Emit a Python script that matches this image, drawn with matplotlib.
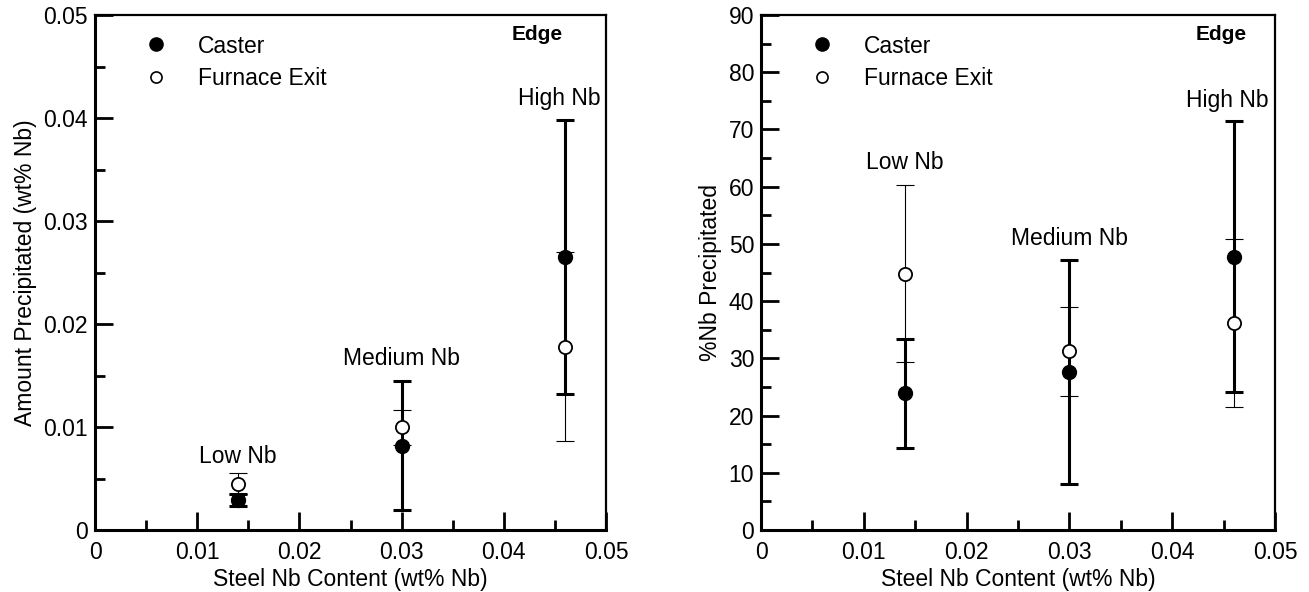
import matplotlib
matplotlib.use("Agg")
from matplotlib import pyplot as plt
from matplotlib.lines import Line2D
from matplotlib.ticker import MultipleLocator

plt.rcParams['font.family'] = ['Liberation Sans', 'DejaVu Sans']

# steel Nb content of the three grades
nb_content = [0.014, 0.030, 0.046]
grade_names = ['Low Nb', 'Medium Nb', 'High Nb']

# amount precipitated (wt% Nb)
amt_caster = [0.0029, 0.0082, 0.0265]
amt_caster_err = [0.0006, 0.0063, 0.0133]
amt_furnace = [0.0045, 0.0100, 0.0178]
amt_furnace_err = [0.0010, 0.0017, 0.0092]

# %Nb precipitated
pct_caster = [23.9, 27.6, 47.8]
pct_caster_err = [9.5, 19.6, 23.7]
pct_furnace = [44.8, 31.2, 36.2]
pct_furnace_err = [15.5, 7.7, 14.7]

x_ticks = [0, 0.01, 0.02, 0.03, 0.04, 0.05]
x_ticklabels = ['0', '0.01', '0.02', '0.03', '0.04', '0.05']
amt_yticks = [0, 0.01, 0.02, 0.03, 0.04, 0.05]
amt_yticklabels = ['0', '0.01', '0.02', '0.03', '0.04', '0.05']
pct_yticks = [0, 10, 20, 30, 40, 50, 60, 70, 80, 90]
pct_yticklabels = ['0', '10', '20', '30', '40', '50', '60', '70', '80', '90']

fig = plt.figure(figsize=(13.09, 5.92), dpi=100)
ax1 = fig.add_axes([0.0726, 0.1047, 0.3904, 0.8699])
ax2 = fig.add_axes([0.5814, 0.1047, 0.3927, 0.8699])


def draw_panel(ax, caster, caster_err, furnace, furnace_err, ymax, yticks, yticklabels,
               yminor, ylabel, label_y, edge_x):
    # furnace exit: thin bars, open circles
    ax.errorbar(nb_content, furnace, yerr=furnace_err, fmt='none', ecolor='black',
                elinewidth=0.8, capsize=6.5, capthick=0.8, zorder=2)
    ax.plot(nb_content, furnace, 'o', ms=9.5, mfc='white', mec='black', mew=1.3, zorder=4)
    # caster: thick bars, filled circles
    ax.errorbar(nb_content, caster, yerr=caster_err, fmt='none', ecolor='black',
                elinewidth=2.2, capsize=6.5, capthick=2.2, zorder=3)
    ax.plot(nb_content, caster, 'o', ms=10, mfc='black', mec='black', zorder=5)

    ax.set_xlim(0, 0.05)
    ax.set_ylim(0, ymax)
    ax.set_xticks(x_ticks)
    ax.set_xticklabels(x_ticklabels)
    ax.set_yticks(yticks)
    ax.set_yticklabels(yticklabels)
    ax.xaxis.set_minor_locator(MultipleLocator(0.005))
    ax.yaxis.set_minor_locator(MultipleLocator(yminor))
    ax.tick_params(which='major', direction='in', length=13, width=2, labelsize=16.5, pad=5)
    ax.tick_params(axis='x', which='major', pad=8)
    ax.tick_params(which='minor', direction='in', length=7, width=2)
    ax.spines['left'].set_linewidth(2.2)
    ax.spines['bottom'].set_linewidth(2.2)
    ax.spines['top'].set_linewidth(1.6)
    ax.spines['right'].set_linewidth(1.6)

    ax.set_xlabel('Steel Nb Content (wt% Nb)', fontsize=16.5, labelpad=3)
    ax.set_ylabel(ylabel, fontsize=16.5, labelpad=5)

    for i, (name, xv, yv) in enumerate(zip(grade_names, nb_content, label_y)):
        shift = -0.0006 if i == 2 else 0
        ax.text(xv + shift, yv, name, ha='center', va='baseline', fontsize=16.5)
    ax.text(edge_x, 0.963, 'Edge', transform=ax.transAxes, ha='right', va='center',
            fontsize=15, fontweight='bold')

    handles = [Line2D([], [], ls='none', marker='o', ms=9.5, mfc='black', mec='black'),
               Line2D([], [], ls='none', marker='o', ms=8, mfc='white', mec='black', mew=1.2)]
    ax.legend(handles, ['Caster', 'Furnace Exit'], loc='upper left',
              bbox_to_anchor=(0.057, 0.98), frameon=False, fontsize=16.5,
              handletextpad=0.83, labelspacing=0.4, borderaxespad=0)


draw_panel(ax1, amt_caster, amt_caster_err, amt_furnace, amt_furnace_err, 0.05,
           amt_yticks, amt_yticklabels, 0.005, 'Amount Precipitated (wt% Nb)',
           [0.0065, 0.0160, 0.0413], 0.916)
draw_panel(ax2, pct_caster, pct_caster_err, pct_furnace, pct_furnace_err, 90,
           pct_yticks, pct_yticklabels, 5, '%Nb Precipitated',
           [63.1, 49.8, 73.9], 0.944)

fig.savefig('out.png', dpi=100)
